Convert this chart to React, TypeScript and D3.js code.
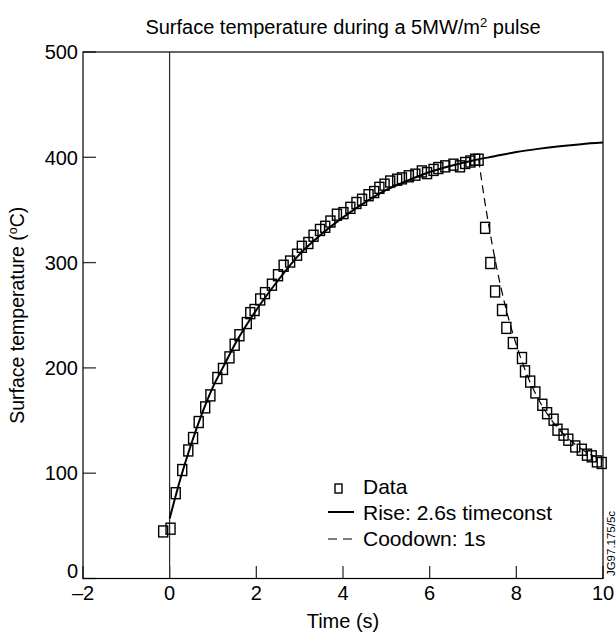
import React from "react";
import * as d3 from "d3";

// measured points (time s, temperature °C)
const riseTime = [-0.15, 0.02, 0.14, 0.29, 0.43, 0.54, 0.67, 0.82, 0.94, 1.1, 1.23, 1.38, 1.5, 1.61, 1.78, 1.86, 1.96, 2.09, 2.2, 2.36, 2.5, 2.63, 2.78, 2.94, 3.05, 3.2, 3.32, 3.47, 3.59, 3.71, 3.86, 4.01, 4.17, 4.31, 4.44, 4.59, 4.72, 4.84, 4.96, 5.09, 5.25, 5.36, 5.52, 5.67, 5.82, 5.94, 6.09, 6.2, 6.36, 6.55, 6.7, 6.82, 6.94, 7.05, 7.13];
const riseTemp = [44.7, 47.3, 81, 103, 121.6, 133.4, 148.6, 162.5, 173.9, 190.4, 199, 210, 222, 231, 242.6, 252, 255, 265, 271, 279, 288, 297, 301, 307.5, 315, 318.6, 325.5, 331, 334, 339, 345.5, 347, 352, 356.6, 359.7, 364, 367, 371, 374, 377, 378.7, 380, 382, 383.5, 386.6, 385, 388, 389.8, 391.4, 393, 391.4, 394.6, 396, 397.7, 397.7];
const coolTime = [7.28, 7.4, 7.51, 7.67, 7.77, 7.92, 8.13, 8.2, 8.32, 8.44, 8.6, 8.71, 8.86, 8.95, 9.09, 9.2, 9.36, 9.51, 9.63, 9.74, 9.86, 9.97];
const coolTemp = [333, 299.6, 272.6, 255, 238, 223.6, 209.4, 196.7, 187, 176.7, 165, 157, 150.8, 141.3, 136.6, 131.8, 125.4, 122.3, 117.6, 116, 111.2, 109.7];

// fitted curves
const fitRiseTime = [0, 0.25, 0.5, 0.75, 1, 1.25, 1.5, 2, 2.5, 3, 3.5, 4, 4.5, 5, 5.5, 6, 6.5, 7, 7.5, 8, 8.5, 9, 9.5, 10];
const fitRiseTemp = [57, 95, 128, 157, 182, 202, 222, 255, 283, 308, 327, 343, 357, 369, 378, 386, 392, 397, 401, 405, 408, 410.5, 412.5, 414];
const fitCoolTime = [7.13, 7.25, 7.5, 7.75, 8, 8.25, 8.5, 8.75, 9, 9.25, 9.5, 9.75, 10];
const fitCoolTemp = [398, 364, 305, 258, 222, 193, 171, 154, 141, 131, 123, 117, 113];

const xTicks = [-2, 0, 2, 4, 6, 8, 10];
const yTicks = [0, 100, 200, 300, 400, 500];

const W = 616;
const H = 637;
const m = { left: 83, right: 13, top: 52, bottom: 58.5 };
const FONT = "'Liberation Sans', Arial, sans-serif";

export default function App() {
  const x = d3.scaleLinear().domain([-2, 10]).range([m.left, W - m.right]);
  const y = d3.scaleLinear().domain([0, 500]).range([H - m.bottom, m.top]);

  const line = d3
    .line<[number, number]>()
    .x((d) => x(d[0]))
    .y((d) => y(d[1]))
    .curve(d3.curveMonotoneX);

  const risePath = line(fitRiseTime.map((t, i) => [t, fitRiseTemp[i]]));
  const coolPath = line(fitCoolTime.map((t, i) => [t, fitCoolTemp[i]]));
  const pts = [
    ...riseTime.map((t, i) => [t, riseTemp[i]]),
    ...coolTime.map((t, i) => [t, coolTemp[i]]),
  ];

  const x0 = x.range()[0];
  const x1 = x.range()[1];
  const yb = y.range()[0];
  const yt = y.range()[1];
  const cx = (x0 + x1) / 2;

  return (
    <svg
      width={W}
      height={H}
      style={{ position: "absolute", left: 0, top: 0, background: "#fff" }}
      fontFamily={FONT}
    >
      <rect x={0} y={0} width={W} height={H} fill="#fff" />
      <text x={cx} y={34} textAnchor="middle" fontSize={20}>
        Surface temperature during a 5MW/m
        <tspan dy={-7} fontSize={13}>2</tspan>
        <tspan dy={7}> pulse</tspan>
      </text>

      {/* zero time marker */}
      <line x1={x(0)} x2={x(0)} y1={yt} y2={yb} stroke="#000" strokeWidth={1} />

      {/* ticks */}
      {yTicks.map((v) => (
        <g key={"y" + v}>
          <line x1={x0} x2={x0 + 13} y1={y(v)} y2={y(v)} stroke="#333" strokeWidth={1.3} />
          <text x={x0 - 5} y={y(v)} dy={v === 0 ? "-0.05em" : "0.36em"} textAnchor="end" fontSize={20}>
            {v}
          </text>
        </g>
      ))}
      {xTicks.map((v) => (
        <g key={"x" + v}>
          <line x1={x(v)} x2={x(v)} y1={yb} y2={yb - 12.5} stroke="#333" strokeWidth={1.3} />
          <text x={x(v)} y={yb + 21} textAnchor="middle" fontSize={20}>
            {v < 0 ? "\u2013" + Math.abs(v) : v}
          </text>
        </g>
      ))}

      {/* frame */}
      <rect x={x0} y={yt} width={x1 - x0} height={yb - yt} fill="none" stroke="#000" strokeWidth={1.2} />

      {/* fits */}
      <path d={risePath ?? ""} fill="none" stroke="#000" strokeWidth={2} />
      <path d={coolPath ?? ""} fill="none" stroke="#000" strokeWidth={1.2} strokeDasharray="8,5" />

      {/* data */}
      {pts.map((p, i) => (
        <rect
          key={i}
          x={x(p[0]) - 4.5}
          y={y(p[1]) - 5.5}
          width={9}
          height={11}
          fill="none"
          stroke="#000"
          strokeWidth={1.4}
        />
      ))}

      {/* legend */}
      <rect x={335} y={484} width={7} height={9} fill="none" stroke="#000" strokeWidth={1.4} />
      <text x={363} y={494} fontSize={21}>Data</text>
      <line x1={328} x2={354} y1={512} y2={512} stroke="#000" strokeWidth={2} />
      <text x={363} y={519.5} fontSize={21}>Rise: 2.6s timeconst</text>
      <line x1={328} x2={354} y1={539} y2={539} stroke="#000" strokeWidth={1.2} strokeDasharray="9,6" />
      <text x={363} y={545.5} fontSize={21}>Coodown: 1s</text>

      {/* axis titles */}
      <text x={cx} y={628} textAnchor="middle" fontSize={20}>Time (s)</text>
      <text
        transform={`translate(24,${(yt + yb) / 2}) rotate(-90)`}
        textAnchor="middle"
        fontSize={19.5}
      >
        Surface temperature (
        <tspan dy={-7} fontSize={12.5}>o</tspan>
        <tspan dy={7}>C)</tspan>
      </text>

      <text
        transform={`translate(614.5,${yb - 35}) rotate(-90)`}
        textAnchor="middle"
        fontSize={11.5}
      >
        JG97.175/5c
      </text>
    </svg>
  );
}
